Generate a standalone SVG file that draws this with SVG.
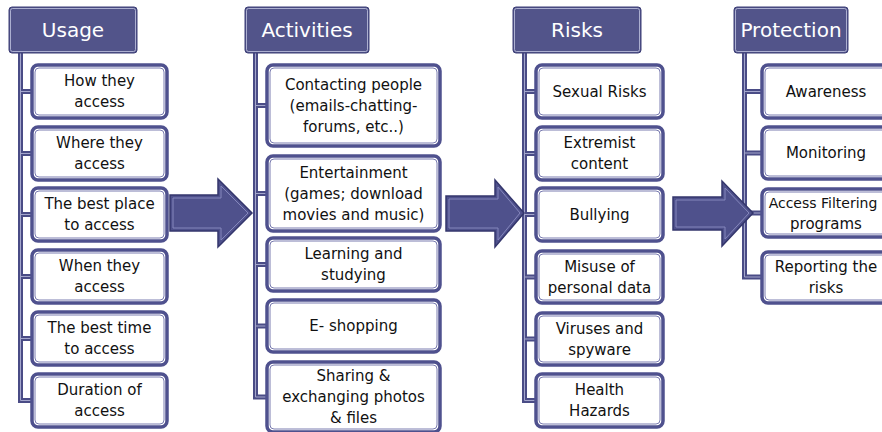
<svg xmlns="http://www.w3.org/2000/svg" width="882" height="432" viewBox="0 0 882 432">
<style>
.hdr{fill:#52548a;stroke:#3c3e76;stroke-width:1}
.hdri{fill:none;stroke:#c4c6e2;stroke-width:0.8}
.htxt{font-family:"DejaVu Sans",sans-serif;font-size:20px;fill:#ffffff;text-anchor:middle}
.box{fill:#ffffff;stroke:#4f518e;stroke-width:3.5}
.boxi{fill:none;stroke:#7a7cb0;stroke-width:1}
.t{font-family:"DejaVu Sans",sans-serif;font-size:15px;fill:#111111;text-anchor:middle}
.ts{font-size:14px}
.cn{fill:none;stroke:#4a4c86;stroke-width:5}
.cni{fill:none;stroke:#a4a6cc;stroke-width:1}
.arr{fill:#4f518c;stroke:#34366c;stroke-width:1.5;stroke-linejoin:miter}
.arri{fill:none;stroke:#8587bc;stroke-width:1}
</style>
<rect width="882" height="432" fill="#ffffff"/>
<g id="connectors">
<path class="cn" d="M20.5 53V400.5H32M20.5 91.5H32M20.5 153.5H32M20.5 214.5H32M20.5 276.5H32M20.5 338.5H32"/>
<path class="cni" d="M20.5 53V400.5H32M20.5 91.5H32M20.5 153.5H32M20.5 214.5H32M20.5 276.5H32M20.5 338.5H32"/>
<path class="cn" d="M255.5 53V397H267M255.5 105.5H267M255.5 193.5H267M255.5 264.5H267M255.5 326H267"/>
<path class="cni" d="M255.5 53V397H267M255.5 105.5H267M255.5 193.5H267M255.5 264.5H267M255.5 326H267"/>
<path class="cn" d="M524.5 53V400.5H536M524.5 91.5H536M524.5 153.5H536M524.5 214.5H536M524.5 277H536M524.5 339H536"/>
<path class="cni" d="M524.5 53V400.5H536M524.5 91.5H536M524.5 153.5H536M524.5 214.5H536M524.5 277H536M524.5 339H536"/>
<path class="cn" d="M744.5 53V277H762M744.5 91.5H762M744.5 153H762M744.5 213H762"/>
<path class="cni" d="M744.5 53V277H762M744.5 91.5H762M744.5 153H762M744.5 213H762"/>
<polygon class="arr" points="170,195 218,195 218,179 252,213 218,247 218,231 170,231"/>
<polygon class="arri" points="173,198 221,198 221,186 248,213 221,240 221,228 173,228"/>
<polygon class="arr" points="446,196 495,196 495,180 524,213 495,247 495,231 446,231"/>
<polygon class="arri" points="449,199 498,199 498,187 520,213 498,240 498,228 449,228"/>
<polygon class="arr" points="673,197 722,197 722,181 753,213 722,246 722,230 673,230"/>
<polygon class="arri" points="676,200 725,200 725,188 749,213 725,239 725,227 676,227"/>
</g>
<g id="usage">
<rect class="hdr" x="9" y="7" width="128" height="46" rx="3"/>
<rect class="hdri" x="10.5" y="8.5" width="125" height="43" rx="2"/>
<text class="htxt" x="73" y="37">Usage</text>
</g>
<g id="u1"><rect class="box" x="32" y="65" width="135" height="53" rx="6"/><rect class="boxi" x="35" y="68" width="129" height="47" rx="4"/><text class="t" x="99.5" y="86">How they</text><text class="t" x="99.5" y="107">access</text></g>
<g id="u2"><rect class="box" x="32" y="127" width="135" height="53" rx="6"/><rect class="boxi" x="35" y="130" width="129" height="47" rx="4"/><text class="t" x="99.5" y="148">Where they</text><text class="t" x="99.5" y="169">access</text></g>
<g id="u3"><rect class="box" x="32" y="188" width="135" height="53" rx="6"/><rect class="boxi" x="35" y="191" width="129" height="47" rx="4"/><text class="t" x="99.5" y="209">The best place</text><text class="t" x="99.5" y="230">to access</text></g>
<g id="u4"><rect class="box" x="32" y="250" width="135" height="53" rx="6"/><rect class="boxi" x="35" y="253" width="129" height="47" rx="4"/><text class="t" x="99.5" y="271">When they</text><text class="t" x="99.5" y="292">access</text></g>
<g id="u5"><rect class="box" x="32" y="312" width="135" height="53" rx="6"/><rect class="boxi" x="35" y="315" width="129" height="47" rx="4"/><text class="t" x="99.5" y="333">The best time</text><text class="t" x="99.5" y="354">to access</text></g>
<g id="u6"><rect class="box" x="32" y="374" width="135" height="53" rx="6"/><rect class="boxi" x="35" y="377" width="129" height="47" rx="4"/><text class="t" x="99.5" y="395">Duration of</text><text class="t" x="99.5" y="416">access</text></g>
<g id="activities">
<rect class="hdr" x="245" y="7" width="124" height="46" rx="3"/>
<rect class="hdri" x="246.5" y="8.5" width="121" height="43" rx="2"/>
<text class="htxt" x="307" y="37">Activities</text>
</g>
<g id="a1"><rect class="box" x="267" y="65" width="173" height="81" rx="6"/><rect class="boxi" x="270" y="68" width="167" height="75" rx="4"/><text class="t" x="353.5" y="89.5">Contacting people</text><text class="t" x="353.5" y="110.5">(emails-chatting-</text><text class="t" x="353.5" y="131.5">forums, etc..)</text></g>
<g id="a2"><rect class="box" x="267" y="156" width="173" height="75" rx="6"/><rect class="boxi" x="270" y="159" width="167" height="69" rx="4"/><text class="t" x="353.5" y="177.5">Entertainment</text><text class="t" x="353.5" y="198.5">(games; download</text><text class="t" x="353.5" y="219.5">movies and music)</text></g>
<g id="a3"><rect class="box" x="267" y="238" width="173" height="53" rx="6"/><rect class="boxi" x="270" y="241" width="167" height="47" rx="4"/><text class="t" x="353.5" y="259">Learning and</text><text class="t" x="353.5" y="280">studying</text></g>
<g id="a4"><rect class="box" x="267" y="300" width="173" height="52" rx="6"/><rect class="boxi" x="270" y="303" width="167" height="46" rx="4"/><text class="t" x="353.5" y="331">E- shopping</text></g>
<g id="a5"><rect class="box" x="267" y="362" width="173" height="70" rx="6"/><rect class="boxi" x="270" y="365" width="167" height="64" rx="4"/><text class="t" x="353.5" y="381">Sharing &amp;</text><text class="t" x="353.5" y="402">exchanging photos</text><text class="t" x="353.5" y="423">&amp; files</text></g>
<g id="risks">
<rect class="hdr" x="513" y="7" width="128" height="46" rx="3"/>
<rect class="hdri" x="514.5" y="8.5" width="125" height="43" rx="2"/>
<text class="htxt" x="577" y="37">Risks</text>
</g>
<g id="r1"><rect class="box" x="536" y="65" width="127" height="53" rx="6"/><rect class="boxi" x="539" y="68" width="121" height="47" rx="4"/><text class="t" x="599.5" y="96.5">Sexual Risks</text></g>
<g id="r2"><rect class="box" x="536" y="127" width="127" height="53" rx="6"/><rect class="boxi" x="539" y="130" width="121" height="47" rx="4"/><text class="t" x="599.5" y="148">Extremist</text><text class="t" x="599.5" y="169">content</text></g>
<g id="r3"><rect class="box" x="536" y="188" width="127" height="53" rx="6"/><rect class="boxi" x="539" y="191" width="121" height="47" rx="4"/><text class="t" x="599.5" y="219.5">Bullying</text></g>
<g id="r4"><rect class="box" x="536" y="251" width="127" height="52" rx="6"/><rect class="boxi" x="539" y="254" width="121" height="46" rx="4"/><text class="t" x="599.5" y="272">Misuse of</text><text class="t" x="599.5" y="293">personal data</text></g>
<g id="r5"><rect class="box" x="536" y="313" width="127" height="52" rx="6"/><rect class="boxi" x="539" y="316" width="121" height="46" rx="4"/><text class="t" x="599.5" y="334">Viruses and</text><text class="t" x="599.5" y="355">spyware</text></g>
<g id="r6"><rect class="box" x="536" y="374" width="127" height="53" rx="6"/><rect class="boxi" x="539" y="377" width="121" height="47" rx="4"/><text class="t" x="599.5" y="395">Health</text><text class="t" x="599.5" y="416">Hazards</text></g>
<g id="protection">
<rect class="hdr" x="734" y="7" width="114" height="46" rx="3"/>
<rect class="hdri" x="735.5" y="8.5" width="111" height="43" rx="2"/>
<text class="htxt" x="791" y="37">Protection</text>
</g>
<g id="p1"><rect class="box" x="762" y="65" width="128" height="53" rx="6"/><rect class="boxi" x="765" y="68" width="122" height="47" rx="4"/><text class="t" x="826" y="96.5">Awareness</text></g>
<g id="p2"><rect class="box" x="762" y="127" width="128" height="52" rx="6"/><rect class="boxi" x="765" y="130" width="122" height="46" rx="4"/><text class="t" x="826" y="158">Monitoring</text></g>
<g id="p3"><rect class="box" x="762" y="189" width="128" height="48" rx="6"/><rect class="boxi" x="765" y="192" width="122" height="42" rx="4"/><text class="t ts" x="823" y="208">Access Filtering</text><text class="t" x="826" y="229">programs</text></g>
<g id="p4"><rect class="box" x="762" y="252" width="128" height="51" rx="6"/><rect class="boxi" x="765" y="255" width="122" height="45" rx="4"/><text class="t" x="826" y="272">Reporting the</text><text class="t" x="826" y="293">risks</text></g>
</svg>
